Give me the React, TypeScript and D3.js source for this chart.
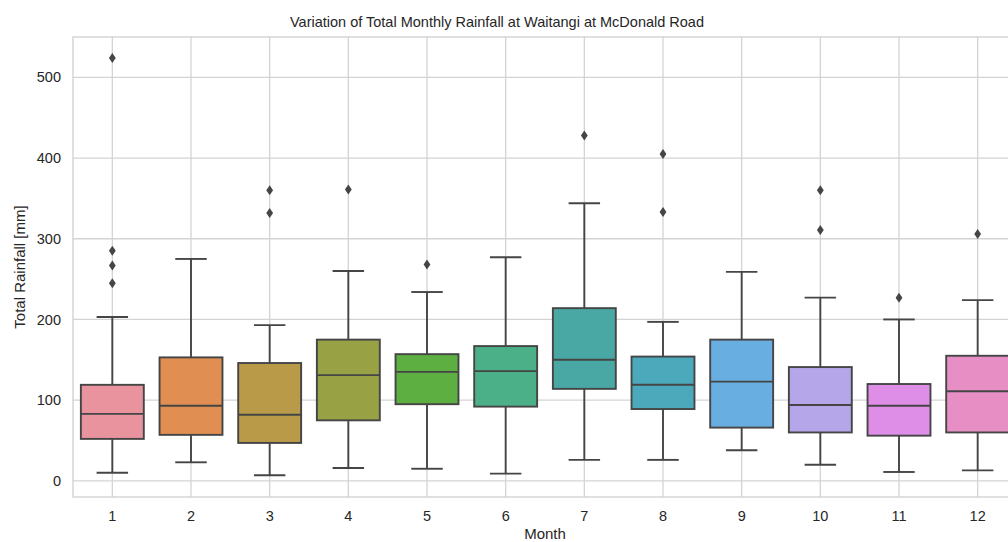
import React, {useEffect, useRef} from 'react'
import * as d3 from 'd3'

const months = ['1', '2', '3', '4', '5', '6', '7', '8', '9', '10', '11', '12'];
const whiskerLow = [10, 23, 7, 16, 15, 9, 26, 26, 38, 20, 11, 13];
const q1 = [52, 57, 47, 75, 95, 92, 114, 89, 66, 60, 56, 60];
const median = [83, 93, 82, 131, 135, 136, 150, 119, 123, 94, 93, 111];
const q3 = [119, 153, 146, 175, 157, 167, 214, 154, 175, 141, 120, 155];
const whiskerHigh = [203, 275, 193, 260, 234, 277, 344, 197, 259, 227, 200, 224];
const outliers = [
  [524, 285, 267, 245],
  [],
  [360, 332],
  [361],
  [268],
  [],
  [428],
  [405, 333],
  [],
  [360, 311],
  [227],
  [306],
];
const yTicks = [0, 100, 200, 300, 400, 500];
const boxColors = ['#e8939e', '#e08e52', '#b99a48', '#98a245', '#5daf42', '#4baf88',
  '#49a8a3', '#4ca9bc', '#69aee0', '#b5a6e9', '#de8ee6', '#e78fc4'];

const App = () => {
  const ref = useRef<SVGSVGElement>(null);
  const width = 1008, height = 542;
  const margin = {top: 37, left: 73, bottom: 45};
  const plotRight = 1017;

  useEffect(() => {
    document.body.style.margin = '0';
    const svg = d3.select(ref.current);
    svg.selectAll('*').remove();
    const font = '"Liberation Sans", Arial, sans-serif';
    const textColor = '#262626';
    const lineColor = '#454545';

    const x = d3.scaleBand().domain(months).range([margin.left, plotRight]).paddingInner(0).paddingOuter(0);
    const y = d3.scaleLinear().domain([-20, 550]).range([height - margin.bottom, margin.top]);
    const bw = x.bandwidth();

    // grid
    const grid = svg.append('g');
    grid.selectAll('line.h').data(yTicks).enter().append('line')
      .attr('x1', margin.left).attr('x2', plotRight)
      .attr('y1', d => y(d)).attr('y2', d => y(d))
      .attr('stroke', '#d4d4d4').attr('stroke-width', 1.3);
    grid.selectAll('line.v').data(months).enter().append('line')
      .attr('x1', d => x(d)! + bw / 2).attr('x2', d => x(d)! + bw / 2)
      .attr('y1', margin.top).attr('y2', height - margin.bottom)
      .attr('stroke', '#d4d4d4').attr('stroke-width', 1.3);

    // frame
    svg.append('rect')
      .attr('x', margin.left).attr('y', margin.top)
      .attr('width', plotRight - margin.left).attr('height', height - margin.bottom - margin.top)
      .attr('fill', 'none').attr('stroke', '#cfcfcf').attr('stroke-width', 1.3);

    const boxes = svg.append('g').selectAll('g').data(months).enter().append('g');
    boxes.each(function (m, i) {
      const g = d3.select(this);
      const cx = x(m)! + bw / 2;
      const boxW = bw * 0.8;
      g.append('line').attr('x1', cx).attr('x2', cx)
        .attr('y1', y(whiskerLow[i])).attr('y2', y(q1[i]))
        .attr('stroke', lineColor).attr('stroke-width', 1.9);
      g.append('line').attr('x1', cx).attr('x2', cx)
        .attr('y1', y(q3[i])).attr('y2', y(whiskerHigh[i]))
        .attr('stroke', lineColor).attr('stroke-width', 1.9);
      [whiskerLow[i], whiskerHigh[i]].forEach(v => {
        g.append('line').attr('x1', cx - boxW / 4).attr('x2', cx + boxW / 4)
          .attr('y1', y(v)).attr('y2', y(v))
          .attr('stroke', lineColor).attr('stroke-width', 1.9);
      });
      g.append('rect')
        .attr('x', cx - boxW / 2).attr('width', boxW)
        .attr('y', y(q3[i])).attr('height', y(q1[i]) - y(q3[i]))
        .attr('fill', boxColors[i])
        .attr('stroke', lineColor).attr('stroke-width', 1.9);
      g.append('line').attr('x1', cx - boxW / 2).attr('x2', cx + boxW / 2)
        .attr('y1', y(median[i])).attr('y2', y(median[i]))
        .attr('stroke', lineColor).attr('stroke-width', 1.9);
      g.selectAll('path').data(outliers[i]).enter().append('path')
        .attr('d', 'M0,-5 L3.4,0 L0,5 L-3.4,0 Z')
        .attr('transform', d => `translate(${cx},${y(d)})`)
        .attr('fill', lineColor);
    });

    // tick labels
    svg.append('g').selectAll('text').data(yTicks).enter().append('text')
      .attr('x', 61).attr('y', d => y(d)).attr('dy', '0.35em')
      .attr('text-anchor', 'end').attr('font-family', font).attr('font-size', 14.5)
      .attr('fill', textColor).text(d => d);
    svg.append('g').selectAll('text').data(months).enter().append('text')
      .attr('x', d => x(d)! + bw / 2).attr('y', 521)
      .attr('text-anchor', 'middle').attr('font-family', font).attr('font-size', 14.5)
      .attr('fill', textColor).text(d => d);

    svg.append('text')
      .attr('x', (margin.left + plotRight) / 2).attr('y', 539)
      .attr('text-anchor', 'middle').attr('font-family', font).attr('font-size', 15)
      .attr('fill', textColor).text('Month');
    svg.append('text')
      .attr('transform', `translate(25,${(margin.top + height - margin.bottom) / 2}) rotate(-90)`)
      .attr('text-anchor', 'middle').attr('font-family', font).attr('font-size', 15)
      .attr('fill', textColor).text('Total Rainfall [mm]');
    svg.append('text')
      .attr('x', 497).attr('y', 27)
      .attr('text-anchor', 'middle').attr('font-family', font).attr('font-size', 14.5)
      .attr('fill', textColor).text('Variation of Total Monthly Rainfall at Waitangi at McDonald Road');
  }, []);

  return (
    <div style={{position: 'absolute', left: 0, top: 0}}>
      <svg ref={ref} width={width} height={height} style={{display: 'block', background: '#fff'}}></svg>
    </div>
  )
};

export default App
